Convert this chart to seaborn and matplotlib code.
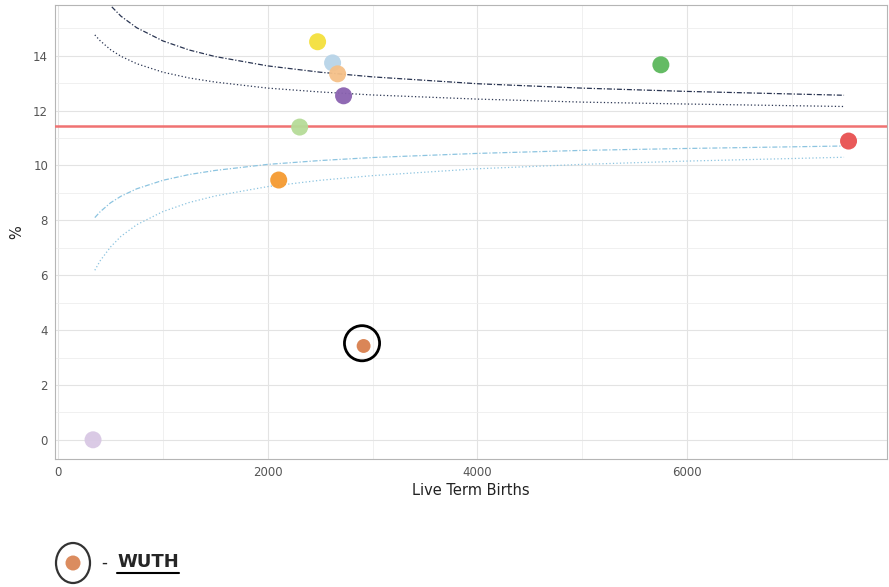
import matplotlib
matplotlib.use("Agg")
import matplotlib.pyplot as plt
from matplotlib.patches import Ellipse
from matplotlib.lines import Line2D
from matplotlib.ticker import MultipleLocator
import seaborn as sns
import pandas as pd

# Providers (x = live term births, y = %)
providers = ["A", "B", "C", "D", "E", "F", "G", "H", "WUTH", "J"]
births = [2476, 2619, 2667, 2724, 2305, 2105, 5752, 7543, 2915, 333]
rates = [14.51, 13.74, 13.34, 12.54, 11.40, 9.47, 13.67, 10.89, 3.42, 0.0]
point_colours = ["#f4e03c", "#b8d4e8", "#f5c088", "#8a62b0", "#b5dc98",
                 "#f59a30", "#5cb85c", "#e85050", "#d8804e", "#d8c8e4"]
highlight = "WUTH"

# National mean
mean_rate = 11.43

# Funnel limits
limit_n = [350, 400, 500, 600, 750, 1000, 1250, 1500, 2000, 2500, 3000,
           4000, 5000, 6000, 7500]
upper_95 = [14.76, 14.55, 14.22, 13.98, 13.71, 13.40, 13.19, 13.04, 12.82,
            12.68, 12.57, 12.42, 12.31, 12.24, 12.15]
upper_998 = [16.68, 16.34, 15.83, 15.44, 15.02, 14.54, 14.21, 13.97, 13.63,
             13.40, 13.23, 12.98, 12.82, 12.70, 12.56]
lower_95 = [8.10, 8.31, 8.64, 8.88, 9.15, 9.46, 9.67, 9.82, 10.04, 10.18,
            10.29, 10.44, 10.55, 10.62, 10.71]
lower_998 = [6.18, 6.52, 7.03, 7.42, 7.84, 8.32, 8.65, 8.89, 9.23, 9.46,
             9.63, 9.88, 10.04, 10.16, 10.30]

x_ticks = [0, 2000, 4000, 6000]
y_ticks = [0, 2, 4, 6, 8, 10, 12, 14]

#%% Build frames
pts = pd.DataFrame({"provider": providers, "births": births, "rate": rates})
lims = pd.DataFrame({"n": limit_n, "u95": upper_95, "u998": upper_998,
                     "l95": lower_95, "l998": lower_998})

sns.set_style("whitegrid")
plt.rcParams["font.family"] = ["DejaVu Sans"]

fig = plt.figure(figsize=(8.89, 5.87), dpi=100)
W, H = 889, 587
ax = fig.add_axes([55 / W, (H - 459) / H, (887 - 55) / W, (459 - 5) / H])

# Funnel lines
dark, light = "#2a3552", "#8cc4e0"
sns.lineplot(data=lims, x="n", y="u998", ax=ax, color=dark, linewidth=0.9,
             linestyle=(0, (4, 1.5, 1, 1.5)))
sns.lineplot(data=lims, x="n", y="u95", ax=ax, color=dark, linewidth=0.9,
             linestyle=(0, (1, 1.8)))
sns.lineplot(data=lims, x="n", y="l95", ax=ax, color=light, linewidth=0.9,
             linestyle=(0, (4, 1.5, 1, 1.5)))
sns.lineplot(data=lims, x="n", y="l998", ax=ax, color=light, linewidth=0.9,
             linestyle=(0, (1, 1.8)))
ax.axhline(mean_rate, color="#f07272", linewidth=1.8, zorder=3)

# Provider points
sizes = {p: (100 if p == highlight else 150) for p in providers}
sns.scatterplot(data=pts, x="births", y="rate", hue="provider",
                palette=point_colours, size="provider", sizes=sizes,
                legend=False, linewidth=0, alpha=0.95, ax=ax, zorder=4)

# Circle round the highlighted provider
hp = pts[pts.provider == highlight]
ax.scatter(hp.births - 15, hp.rate + 0.1, s=640, facecolors="none",
           edgecolors="black", linewidths=2.0, zorder=5)

# Axes styling
ax.set_xlim(-30, 7910)
ax.set_ylim(-0.7, 15.85)
ax.set_xticks(x_ticks)
ax.set_yticks(y_ticks)
ax.xaxis.set_minor_locator(MultipleLocator(1000))
ax.yaxis.set_minor_locator(MultipleLocator(1))
ax.grid(which="major", color="#e3e3e3", linewidth=0.8)
ax.grid(which="minor", color="#eeeeee", linewidth=0.6)
for s in ax.spines.values():
    s.set_color("#b5b5b5")
    s.set_linewidth(0.8)
ax.tick_params(axis="both", which="major", length=3, width=0.6,
               color="#b5b5b5", labelsize=8.5, labelcolor="#555555", pad=2)
ax.tick_params(axis="both", which="minor", length=0)
ax.set_xlabel("Live Term Births", fontsize=10.5, color="#222222", labelpad=3)
ax.set_ylabel("%", fontsize=10.5, color="#222222", labelpad=6)

# Key below the chart
fig.patches.append(Ellipse((0.73, 0.24), 0.34, 0.40, transform=fig.dpi_scale_trans,
                           facecolor="white", edgecolor="#333333", linewidth=1.6))
fig.patches.append(Ellipse((0.73, 0.24), 0.15, 0.15, transform=fig.dpi_scale_trans,
                           facecolor="#d8804e", edgecolor="none", alpha=0.9))
fig.text(101 / W, 0.245 / 5.87, "-", fontsize=12, va="center", ha="left")
t = fig.text(117 / W, 0.25 / 5.87, highlight, fontsize=13, fontweight="bold",
             va="center", ha="left")
fig.canvas.draw()
bb = t.get_window_extent().transformed(fig.transFigure.inverted())
fig.lines.append(Line2D([bb.x0, bb.x1], [bb.y0 - 0.004, bb.y0 - 0.004],
                        transform=fig.transFigure, color="black", linewidth=1.5))

fig.savefig("out.png", dpi=100)
